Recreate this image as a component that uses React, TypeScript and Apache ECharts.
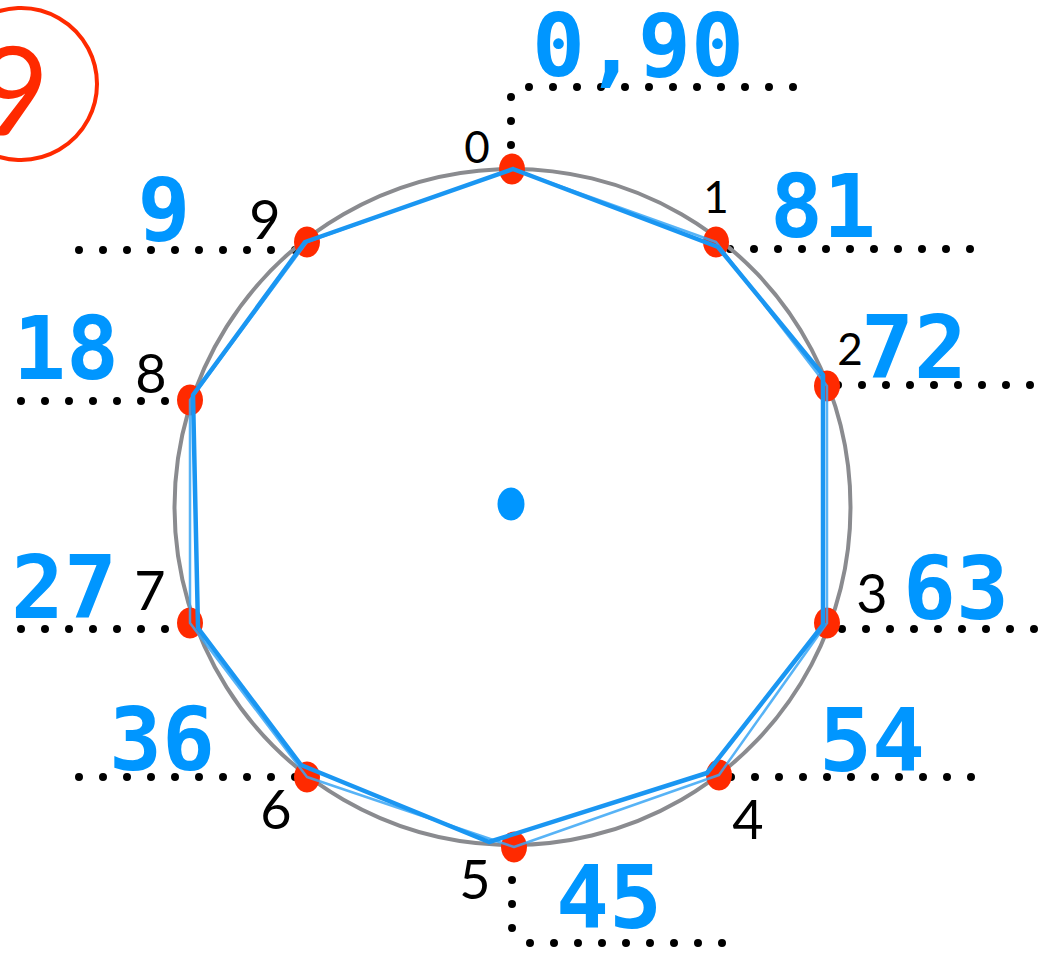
import React, { useEffect, useRef } from "react";
import * as echarts from "echarts";

// Geometry in a coordinate system centred on the big circle (y up).
const vertexNames = ["0", "1", "2", "3", "4", "5", "6", "7", "8", "9"];
const vertexPoints = [
  [0, 338], [204, 265], [315, 121], [315, -116], [207, -268],
  [2, -340], [-205, -270], [-322, -116], [-322, 107], [-205, 265],
];
const sketchPoints = [
  [1, 338], [206, 260], [311, 132], [311, -118], [195, -266],
  [-23, -335], [-211, -258], [-314, -121], [-319, 112], [-207, 265],
];
const vertexLabelPoints = [
  [-35, 361], [204, 311], [338, 159], [360, -85], [236, -311],
  [-37, -371], [-236, -301], [-362, -82], [-361, 135], [-247, 289],
];
const multiples = ["0,90", "81", "72", "63", "54", "45", "36", "27", "18", "9"];
const multiplePoints = [
  [126, 462], [311, 301], [402, 160], [444, -81], [360, -233],
  [97, -390], [-350, -232], [-448, -80], [-446, 159], [-348, 298],
];
const dottedGuides = [
  [[-1, 362], [-1, 411]],
  [[17, 420], [283, 420]],
  [[218, 258], [460, 258]],
  [[326, 122], [519, 122]],
  [[330, -122], [523, -122]],
  [[219, -270], [460, -270]],
  [[0, -373], [0, -422]],
  [[18, -436], [211, -436]],
  [[-433, -270], [-216, -270]],
  [[-491, -122], [-346, -122]],
  [[-491, 106], [-346, 106]],
  [[-433, 257], [-216, 257]],
];
const centerPoint = [-1, 3];
const circleCenter = [0.5, 0];
const circleRadius = 338;
const badgeCenter = [-491, 423];
const badgeRadius = 76;
const badgeText = "9";
const badgeTextPoint = [-499, 419];

const X_MIN = -512, X_MAX = 532, Y_MIN = -446, Y_MAX = 507;

export default function App() {
  const ref = useRef<HTMLDivElement>(null);
  useEffect(() => {
    document.body.style.margin = "0";
    const chart = echarts.init(ref.current!, null, { renderer: "svg" });
    const ringRender = (color: string) => (params: any, api: any) => {
      const c = api.coord([api.value(0), api.value(1)]);
      const r = api.size([api.value(2), api.value(2)])[0];
      return {
        type: "circle",
        shape: { cx: c[0], cy: c[1], r },
        style: { fill: "none", stroke: color, lineWidth: 4 },
      };
    };
    const closed = (pts: number[][]) => [...pts, pts[0]];
    const textLayer = (data: any[], label: any) => ({
      type: "scatter",
      z: 5,
      silent: true,
      symbolSize: 1,
      itemStyle: { color: "transparent", opacity: 1 },
      data,
      label: {
        show: true,
        position: "inside",
        formatter: (p: any) => p.name,
        opacity: 1,
        textBorderWidth: 0,
        ...label,
      },
    });
    chart.setOption({
      animation: false,
      backgroundColor: "#ffffff",
      grid: { left: 0, right: 0, top: 0, bottom: 0, containLabel: false },
      xAxis: { type: "value", min: X_MIN, max: X_MAX, show: false },
      yAxis: { type: "value", min: Y_MIN, max: Y_MAX, show: false },
      series: [
        {
          type: "lines",
          coordinateSystem: "cartesian2d",
          z: 1,
          silent: true,
          data: dottedGuides.map((c) => ({ coords: c })),
          lineStyle: { color: "#000000", width: 8, type: [0, 24], cap: "round", opacity: 1, curveness: 0 },
        },
        {
          type: "custom",
          coordinateSystem: "cartesian2d",
          z: 2,
          silent: true,
          data: [[circleCenter[0], circleCenter[1], circleRadius]],
          renderItem: ringRender("#8a8b8f"),
        },
        {
          type: "custom",
          coordinateSystem: "cartesian2d",
          z: 2,
          silent: true,
          data: [[badgeCenter[0], badgeCenter[1], badgeRadius]],
          renderItem: ringRender("#ff2a00"),
        },
        {
          type: "scatter",
          z: 3,
          silent: true,
          symbol: "circle",
          symbolSize: [26, 31],
          itemStyle: { color: "#ff2a00", opacity: 1 },
          data: vertexPoints,
        },
        {
          type: "scatter",
          z: 3,
          silent: true,
          symbol: "circle",
          symbolSize: [27, 33],
          itemStyle: { color: "#0096ff", opacity: 1 },
          data: [centerPoint],
        },
        {
          type: "line",
          z: 4,
          silent: true,
          symbol: "none",
          data: closed(vertexPoints),
          lineStyle: { color: "#3aa6f4", width: 2.5, opacity: 0.85, join: "round" },
        },
        {
          type: "line",
          z: 4,
          silent: true,
          symbol: "none",
          data: closed(sketchPoints),
          lineStyle: { color: "#1a96f2", width: 4.5, join: "round", cap: "round" },
        },
        textLayer(
          vertexLabelPoints.map((p, i) => ({
            value: p,
            name: vertexNames[i],
            label: { fontSize: i <= 2 ? 44 : 54 },
          })),
          { color: "#000000", fontFamily: "Lato", fontWeight: "normal", fontSize: 54 }
        ),
        textLayer(
          multiplePoints.map((p, i) => ({ value: p, name: multiples[i] })),
          { color: "#0096ff", fontFamily: "DejaVu Sans Mono", fontWeight: "bold", fontSize: 88, lineHeight: 72 }
        ),
        textLayer(
          [{ value: badgeTextPoint, name: badgeText }],
          { color: "#ff2a00", fontFamily: "Lato", fontWeight: "normal", fontSize: 125 }
        ),
      ],
    });
    return () => chart.dispose();
  }, []);
  return (
    <div
      ref={ref}
      style={{ position: "absolute", left: 0, top: 0, width: 1044, height: 953 }}
    />
  );
}
